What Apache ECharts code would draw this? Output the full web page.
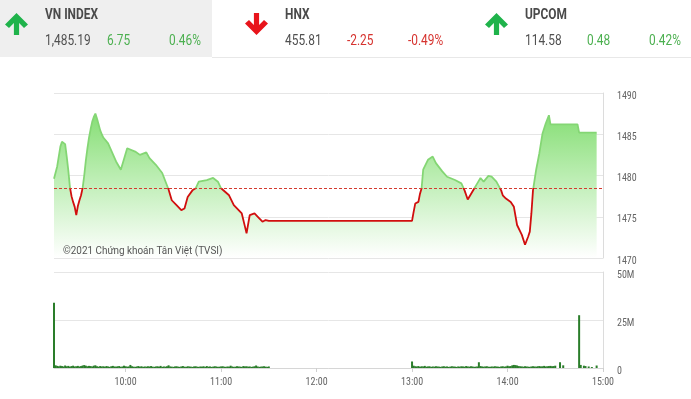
<!DOCTYPE html>
<html>
<head>
<meta charset="utf-8">
<script src="https://cdn.jsdelivr.net/npm/echarts@6/dist/echarts.min.js"></script>
<style>
html,body{margin:0;padding:0;background:#fff;}
#c{width:691px;height:399px;}
</style>
</head>
<body>
<div id="c"></div>
<script>
// ---------- data ----------
const indexNames = ['VN INDEX', 'HNX', 'UPCOM'];
const indexValues = ['1,485.19', '455.81', '114.58'];
const indexChanges = ['6.75', '-2.25', '0.48'];
const indexPercents = ['0.46%', '-0.49%', '0.42%'];
const indexUp = [true, false, true];

const refPrice = 1478.44;
const priceTimes = ['09:15','09:17','09:19','09:20','09:21','09:22','09:23','09:24','09:25','09:26','09:27','09:28','09:29','09:30','09:31','09:32','09:33',
  '09:34','09:35','09:36','09:37','09:38','09:39','09:40','09:41','09:42','09:43','09:44','09:45','09:46','09:49','09:54','09:57','09:58',
  '10:01','10:06','10:09','10:13','10:15','10:19','10:23','10:27','10:29','10:32','10:35','10:37','10:39','10:42','10:44','10:46','10:51',
  '10:55','10:58','11:00','11:05','11:08','11:13','11:15','11:16','11:18','11:21','11:24','11:26','11:28','11:30',
  '13:00','13:01','13:02','13:04','13:05','13:06','13:07','13:10','13:13','13:15','13:19','13:22','13:27','13:31','13:33','13:35','13:39',
  '13:41','13:43','13:45','13:48','13:50','13:53','13:56','13:57','13:59','14:02','14:04','14:06','14:09','14:11','14:13','14:14','14:15',
  '14:16','14:18','14:20','14:22','14:24','14:26','14:27','14:30','14:44','14:45','14:56'];
const priceValues = [1479.6,1481.1,1483.5,1484.1,1484.3,1483.8,1482.3,1480.6,1478.6,1477.5,1476.8,1476.2,1475.2,1476.3,1477.0,1477.6,1478.5,
  1480.0,1481.8,1483.3,1484.6,1485.6,1486.5,1487.1,1487.5,1486.9,1486.2,1485.5,1485.0,1484.6,1483.9,1481.7,1480.7,1480.5,
  1483.3,1482.9,1482.5,1482.8,1482.1,1481.3,1480.3,1478.3,1477.0,1476.4,1475.8,1476.0,1477.4,1478.2,1478.45,1479.25,1479.45,
  1479.7,1479.25,1478.45,1477.6,1476.4,1475.4,1473.8,1473.0,1475.2,1475.4,1474.8,1474.4,1474.6,1474.5,
  1474.5,1475.6,1476.6,1476.8,1477.8,1478.45,1480.7,1481.9,1482.3,1481.5,1480.5,1479.85,1479.45,1479.05,1478.2,1477.1,1478.4,
  1479.05,1479.7,1479.25,1479.95,1479.85,1479.25,1478.2,1477.6,1477.2,1476.8,1476.2,1474.0,1472.8,1471.6,1472.6,1473.2,1475.4,
  1478.2,1480.7,1482.7,1485.1,1486.3,1487.3,1486.2,1486.2,1486.2,1485.19,1485.19];

// volume (millions), one value per minute
const volMorningStart = '09:15';
const volMorning = [34,
  1.4,1.1,0.9,1.2,1.0,0.8,1.3,0.9,1.1,0.7,1.0,1.2,0.8,0.9,1.1,
  0.8,1.0,1.3,1.5,1.2,0.9,1.1,1.0,0.8,1.2,1.4,0.9,0.7,1.0,0.8,
  0.9,0.7,1.0,0.8,0.6,0.9,1.1,0.8,0.7,0.9,1.0,0.6,0.8,1.2,0.9,
  0.7,0.8,1.6,0.9,0.7,0.6,0.8,1.0,0.7,0.9,0.6,0.8,0.7,0.9,0.8,
  1.0,0.7,0.6,0.8,0.9,0.7,1.1,0.6,0.8,0.7,0.9,1.4,0.8,0.7,0.6,
  0.8,0.9,0.7,0.6,0.8,1.0,0.7,0.6,0.9,0.8,0.7,0.6,0.8,0.9,0.7,
  0.6,0.8,0.7,0.9,0.6,1.0,0.7,0.8,0.6,0.7,0.9,0.8,0.6,0.7,0.8,
  0.9,0.7,0.6,0.8,0.7,1.2,0.8,0.6,0.7,0.9,0.8,0.7,0.6,1.0,0.8,
  0.9,0.7,0.8,0.6,0.7,0.9,1.3,0.8,0.6,0.7,0.8,0.9,0.7,0.6,0.8];
const volAfternoonStart = '13:00';
const volAfternoon = [3.4,
  1.2,0.9,0.8,1.0,0.7,0.9,0.8,1.1,0.7,0.8,0.9,0.6,0.8,0.7,0.9,
  0.8,0.7,0.6,0.8,0.9,0.7,0.8,0.6,0.7,0.9,0.8,0.7,0.6,0.8,0.7,
  0.9,0.8,0.7,1.0,0.8,0.7,0.9,0.8,0.6,0.7,0.8,3.0,1.0,0.8,0.7,
  0.8,0.9,0.7,0.6,0.8,0.7,0.9,0.8,0.7,0.6,0.8,0.9,0.7,0.8,1.2,
  0.9,1.0,1.4,1.6,1.5,1.3,1.0,0.9,0.8,0.7,0.9,0.8,0.7,0.6,0.8,
  0.9,0.8,0.7,0.9,1.0,0.8,0.9,1.1,0.8,0.9,1.0,1.1,0.9,1.0,1.2];
const volCloseTimes = ['14:33','14:35','14:45','14:46','14:48','14:49','14:51','14:53','14:56'];
const volCloseValues = [3.0,1.4,27.5,1.6,1.2,1.0,0.8,0.5,1.3];

const priceTicks = [1470, 1475, 1480, 1485, 1490];
const volTicks = [0, 25, 50];
const timeTicks = ['10:00','11:00','12:00','13:00','14:00','15:00'];
const timeStart = '09:15', timeEnd = '15:00';
const watermark = '©2021 Chứng khoán Tân Việt (TVSI)';

// ---------- build ----------
const toMin = s => { const p = s.split(':').map(Number); return p[0]*60 + p[1]; };
const fmt = m => String(Math.floor(m/60)).padStart(2,'0') + ':' + String(m%60).padStart(2,'0');

const priceData = priceTimes.map((t,i) => [toMin(t), priceValues[i]]);
const volData = [];
volMorning.forEach((v,i) => volData.push([toMin(volMorningStart)+i, v]));
volAfternoon.forEach((v,i) => volData.push([toMin(volAfternoonStart)+i, v]));
volCloseTimes.forEach((t,i) => volData.push([toMin(t), volCloseValues[i]]));

const xMin = toMin(timeStart), xMax = toMin(timeEnd);
const tickMins = timeTicks.map(toMin);
const pMin = priceTicks[0], pMax = priceTicks[priceTicks.length-1];

const axisFont = "'Liberation Sans Narrow', 'Roboto Condensed', Roboto, sans-serif";
const SX = 0.85;
const GREEN = '#4cb050', RED = '#d6332f', GRAYTXT = '#505050';

function arrow(cx, ty, by, up, color) {
  const pts = [[0,0],[11.5,11.5],[7.5,15],[2.6,10],[2.6,by-ty],[-2.6,by-ty],[-2.6,10],[-7.5,15],[-11.5,11.5]];
  return {type:'polygon', shape:{points: pts.map(p => [cx+p[0], up ? ty+p[1] : by-p[1]])}, style:{fill:color}};
}
function txt(x, y, text, color, bold) {
  return {type:'text', x:x, y:y, scaleX:SX, style:{text:text, fill:color, font:(bold?'bold ':'')+'14px Roboto', textVerticalAlign:'middle', textAlign:'left'}};
}

const blockX = [45, 285, 525];
const arrowX = [16.5, 256.5, 496.5];
const chgX = [107, 347, 587];
const pctX = [169, 408, 649];
const graphic = [
  {type:'rect', shape:{x:0,y:0,width:212,height:57}, style:{fill:'#efefef'}},
  {type:'line', shape:{x1:212,y1:57.5,x2:691,y2:57.5}, style:{stroke:'#e8e8e8', lineWidth:1}}
];
indexNames.forEach((n,i) => {
  const c = indexUp[i] ? GREEN : RED;
  graphic.push(arrow(arrowX[i], 13, 35, indexUp[i], indexUp[i] ? '#1fb34b' : '#e8141b'));
  graphic.push(txt(blockX[i], 15.5, n, '#4a4a4a', true));
  graphic.push(txt(blockX[i], 41.5, indexValues[i], GRAYTXT, false));
  graphic.push(txt(chgX[i], 41.5, indexChanges[i], c, false));
  graphic.push(txt(pctX[i], 41.5, indexPercents[i], c, false));
});
graphic.push({type:'text', x:63, y:251, scaleX:0.9, z:100, style:{text:watermark, fill:'#555', font:'11px Roboto', textVerticalAlign:'middle'}});

const yLabel = {color:'#666', fontSize:10, fontFamily:axisFont, margin:14, verticalAlign:'top', lineHeight:6};

const chart = echarts.init(document.getElementById('c'), null, {renderer:'canvas'});
chart.setOption({
  animation:false,
  backgroundColor:'#fff',
  graphic: graphic,
  grid:[
    {left:54, right:88, top:93, height:165},
    {left:54, right:88, top:272, height:96}
  ],
  visualMap:{
    type:'piecewise', show:false, seriesIndex:0, dimension:1,
    pieces:[{gte:pMin-100, lt:refPrice, color:'#d10e0e'},{gte:refPrice, lte:pMax+100, color:'#84d674'}]
  },
  xAxis:[
    {type:'value', gridIndex:0, min:xMin, max:xMax, axisLabel:{show:false}, axisTick:{show:false}, axisLine:{show:false}, splitLine:{show:false}},
    {type:'value', gridIndex:1, min:xMin, max:xMax,
      axisLine:{show:true, lineStyle:{color:'#d6d6d6'}},
      axisTick:{show:true, customValues:tickMins, length:4, lineStyle:{color:'#cfcfcf'}},
      axisLabel:{customValues:tickMins, formatter:v => fmt(v), color:'#666', fontSize:10, fontFamily:axisFont, margin:9},
      splitLine:{show:false}}
  ],
  yAxis:[
    {type:'value', gridIndex:0, position:'right', min:pMin, max:pMax, interval:priceTicks[1]-priceTicks[0],
      axisLine:{show:true, lineStyle:{color:'#dcdcdc'}}, axisTick:{show:false},
      axisLabel:Object.assign({formatter:v => String(v)}, yLabel),
      splitLine:{lineStyle:{color:'#e6e6e6'}}},
    {type:'value', gridIndex:1, position:'right', min:volTicks[0], max:volTicks[volTicks.length-1], interval:volTicks[1]-volTicks[0],
      axisLine:{show:true, lineStyle:{color:'#dcdcdc'}}, axisTick:{show:false},
      axisLabel:Object.assign({formatter:v => v===0 ? '0' : v+'M'}, yLabel),
      splitLine:{lineStyle:{color:'#e6e6e6'}}}
  ],
  series:[
    {type:'line', xAxisIndex:0, yAxisIndex:0, data:priceData, showSymbol:false, symbol:'none',
      lineStyle:{width:1.8},
      areaStyle:{opacity:1, color:new echarts.graphic.LinearGradient(0,0,0,1,[
        {offset:0, color:'#86de75'},{offset:0.45, color:'#bdeeb4'},{offset:1, color:'#ffffff'}])},
      markLine:{silent:true, symbol:'none', label:{show:false},
        lineStyle:{color:'#d33a2f', type:[3,2], width:1},
        data:[{yAxis:refPrice}]}},
    {type:'bar', xAxisIndex:1, yAxisIndex:1, data:volData, barWidth:2, itemStyle:{color:'#2a7d2a'}}
  ]
});
</script>
</body>
</html>
